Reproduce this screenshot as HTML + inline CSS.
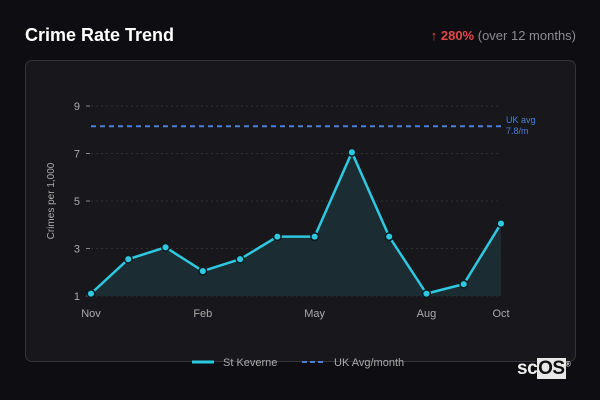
<!DOCTYPE html>
<html><head><meta charset="utf-8"><style>
body{margin:0;width:600px;height:400px;background:#0e0e12;font-family:"Liberation Sans","DejaVu Sans",sans-serif;overflow:hidden;position:relative}
.t{position:absolute;left:25px;top:25px;color:#fff;font-weight:bold;font-size:18px}
.ch{position:absolute;right:24px;top:28px;font-size:13px;color:#8a8a92}
.ch b{color:#e04848}
.card{position:absolute;left:25px;top:60px;width:549px;height:300px;border:1px solid #34343a;border-radius:7px;background:#18181c}
svg{position:absolute;left:0;top:0}
.logo{position:absolute;left:517px;top:358px;font-size:19px;font-weight:bold;color:#eee;letter-spacing:-0.5px}
.logo span{background:#e8e8e8;color:#111;padding:0 1px}
</style></head><body>
<div class="t">Crime Rate Trend</div>
<div class="ch"><b>↑ 280%</b> (over 12 months)</div>
<div class="card"></div>
<svg id="c" width="600" height="400"></svg>
<div class="logo">sc<span>OS</span><sup style="font-size:7px">®</sup></div>
<script>
const months=["Nov","Dec","Jan","Feb","Mar","Apr","May","Jun","Jul","Aug","Sep","Oct"];
const values=[1.1,2.55,3.05,2.05,2.55,3.5,3.5,7.05,3.5,1.1,1.5,4.05];
const yTicks=[1,3,5,7,9];
const xLabelIdx=[0,3,6,9,11];
const ukAvg=8.15;
const ukLabel=["UK avg","7.8/m"];
const NS="http://www.w3.org/2000/svg";
const svg=document.getElementById('c');
const x=i=>91+i*(410/(months.length-1));
const y=v=>296-(v-1)*23.75;
function mk(t,a,txt){const e=document.createElementNS(NS,t);for(const k in a)e.setAttribute(k,a[k]);if(txt!=null)e.textContent=txt;svg.appendChild(e);return e;}
yTicks.forEach(v=>{
 const g=mk('line',{x1:91,x2:501,y1:y(v),y2:y(v),stroke:'#2e2e34','stroke-dasharray':'2,3'});
 
 
 mk('line',{x1:86,x2:90,y1:y(v),y2:y(v),stroke:'#888'});
 const t=mk('text',{x:80,y:y(v)+4,fill:'#aaa','font-size':11,'text-anchor':'end'},v);
 
 
});
xLabelIdx.forEach(i=>{
 const t=mk('text',{x:x(i),y:317,fill:'#aaa','font-size':11,'text-anchor':'middle'},months[i]);
 
 
});
const yt=mk('text',{transform:'translate(54,201) rotate(-90)',fill:'#aaa','font-size':10,'text-anchor':'middle'},'Crimes per 1,000');


let pts=values.map((v,i)=>x(i)+','+y(v)).join(' ');
const area=mk('polygon',{points:x(0)+','+y(1)+' '+pts+' '+x(values.length-1)+','+y(1),fill:'#1c3036',opacity:0.9});


const uk=mk('line',{x1:91,x2:501,y1:y(ukAvg),y2:y(ukAvg),stroke:'#4a7fd8','stroke-width':2,'stroke-dasharray':'5,4'});


ukLabel.forEach((s,k)=>{const t=mk('text',{x:506,y:y(ukAvg)-3+k*11,fill:'#4a7fd8','font-size':9},s);
 
 });
const line=mk('polyline',{points:pts,fill:'none',stroke:'#2ec8e0','stroke-width':2.5,'stroke-linejoin':'round'});


values.forEach((v,i)=>{
 const c=mk('circle',{cx:x(i),cy:y(v),r:3.8,fill:'#2ec8e0',stroke:'#0e1a1e','stroke-width':1.5});
 
 
});
const l1=mk('line',{x1:192,x2:214,y1:362,y2:362,stroke:'#2ec8e0','stroke-width':3});


const lt1=mk('text',{x:223,y:366,fill:'#aaa','font-size':11},'St Keverne');


const l2=mk('line',{x1:302,x2:326,y1:362,y2:362,stroke:'#4a7fd8','stroke-width':2,'stroke-dasharray':'5,3'});


const lt2=mk('text',{x:334,y:366,fill:'#aaa','font-size':11},'UK Avg/month');


</script>
</body></html>
